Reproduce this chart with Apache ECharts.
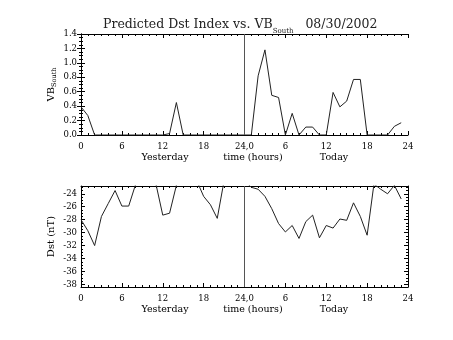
<!DOCTYPE html>
<html><head><meta charset="utf-8">
<script src="https://cdn.jsdelivr.net/npm/echarts@6/dist/echarts.min.js"></script>
<style>html,body{margin:0;padding:0;background:#fff}#c{width:453px;height:340px}</style>
</head><body><div id="c"></div>
<script>
// ---- data ----
const hours = [0,1,2,3,4,5,6,7,8,9,10,11,12,13,14,15,16,17,18,19,20,21,22,23,
               24,25,26,27,28,29,30,31,32,33,34,35,36,37,38,39,40,41,42,43,44,45,46,47];
const vbSouth = [0.39,0.27,0,0,0,0,0,0,0,0,0,0,0,0.02,0.45,0,0,0,0,0,0,0,0,0,
                 0,0,0.82,1.18,0.55,0.52,0,0.30,0,0.11,0.11,0,0,0.59,0.39,0.47,0.77,0.77,0,0,0,0,0.12,0.17];
const dst = [-28.0,-29.7,-32.0,-27.5,-25.5,-23.5,-25.9,-25.9,-22.6,-20.5,-20.5,-22.5,-27.3,-27.0,-22.7,-21.5,-21.0,-22.0,-24.4,-25.7,-27.8,-22.0,-21.0,-21.0,
             -22.0,-23.0,-23.3,-24.4,-26.3,-28.6,-29.9,-28.9,-30.9,-28.3,-27.3,-30.8,-28.9,-29.3,-27.9,-28.1,-25.4,-27.5,-30.4,-22.5,-23.3,-24.0,-22.7,-24.8];
const xTicks = [0,6,12,18,24,30,36,42,48];
const xTickLabels = ['0','6','12','18','24,0','6','12','18','24'];
const dstTicks = [-38,-36,-34,-32,-30,-28,-26,-24];
const dstMinorTicks = [-38,-37.5,-37,-36.5,-36,-35.5,-35,-34.5,-34,-33.5,-33,-32.5,-32,-31.5,-31,-30.5,-30,-29.5,-29,-28.5,-28,-27.5,-27,-26.5,-26,-25.5,-25,-24.5,-24,-23.5,-23];
const titleMain = 'Predicted Dst Index vs. VB';
const titleSub = 'South';
const titleDate = '08/30/2002';

// ---- chart ----
const FONT = 'DejaVu Serif';
const K = '#000';
const chart = echarts.init(document.getElementById('c'), null, {renderer: 'canvas'});

function xAx(gridIndex, position, labels) {
  return {
    type: 'value', gridIndex, position, min: 0, max: 48, interval: 6,
    axisLine: {show: true, onZero: false, lineStyle: {color: K, width: 1}},
    axisTick: {show: true, inside: true, length: 4, lineStyle: {color: K, width: 1}},
    minorTick: {show: true, splitNumber: 6, length: 2, lineStyle: {color: K, width: 1}},
    splitLine: {show: false},
    axisLabel: {show: labels, margin: 7, fontFamily: FONT, fontSize: 8.5, color: K,
      showMinLabel: true, showMaxLabel: true, hideOverlap: false,
      formatter: v => { const i = xTicks.indexOf(Math.round(v)); return i >= 0 ? xTickLabels[i] : ''; }}
  };
}
const lblStyle = {fontFamily: FONT, fontSize: 8.5, color: K};
const nameRich = {
  a: {fontFamily: FONT, fontSize: 10, color: K, lineHeight: 14, fontWeight: 'normal'},
  s: {fontFamily: FONT, fontSize: 6.5, color: K, lineHeight: 7, verticalAlign: 'bottom', fontWeight: 'normal'}
};

const option = {
  animation: false,
  backgroundColor: '#fff',
  title: {
    text: '{a|' + titleMain + '}{s|' + titleSub + '}{a|   ' + titleDate + '}',
    left: 98, top: 10,
    textStyle: {fontWeight: 'normal', rich: {
      a: {fontFamily: FONT, fontSize: 12.5, color: '#222', lineHeight: 20, fontWeight: 'normal'},
      s: {fontFamily: FONT, fontSize: 7, color: '#222', lineHeight: 8, verticalAlign: 'bottom', fontWeight: 'normal'}
    }}
  },
  grid: [
    {left: 81, right: 45, top: 34, height: 101},
    {left: 81, right: 45, top: 186, height: 101}
  ],
  xAxis: [xAx(0, 'bottom', true), xAx(0, 'top', false), xAx(1, 'bottom', true), xAx(1, 'top', false)],
  yAxis: [
    {type: 'value', gridIndex: 0, position: 'left', min: 0, max: 1.4, interval: 0.2,
     axisLine: {show: true, lineStyle: {color: K}},
     axisTick: {show: true, inside: true, length: 4, lineStyle: {color: K}},
     minorTick: {show: true, splitNumber: 4, length: 2, lineStyle: {color: K}},
     splitLine: {show: false},
     axisLabel: Object.assign({margin: 4, formatter: v => v.toFixed(1)}, lblStyle),
     name: '{a|VB}{s|South}', nameLocation: 'middle', nameRotate: 90, nameGap: 23, nameMoveOverlap: false,
     nameTextStyle: {rich: nameRich}},
    {type: 'value', gridIndex: 0, position: 'right', min: 0, max: 1.4, interval: 0.2,
     axisLine: {show: true, lineStyle: {color: K}},
     axisTick: {show: true, inside: true, length: 4, lineStyle: {color: K}},
     minorTick: {show: true, splitNumber: 4, length: 2, lineStyle: {color: K}},
     splitLine: {show: false}, axisLabel: {show: false}},
    {type: 'value', gridIndex: 1, position: 'left', min: -38.4, max: -22.8,
     axisLine: {show: true, lineStyle: {color: K}},
     axisTick: {show: true, inside: true, length: 4, customValues: dstTicks, lineStyle: {color: K}},
     splitLine: {show: false},
     axisLabel: Object.assign({margin: 4, customValues: dstTicks, formatter: v => String(Math.round(v))}, lblStyle),
     name: 'Dst (nT)', nameLocation: 'middle', nameRotate: 90, nameGap: 25, nameMoveOverlap: false,
     nameTextStyle: {fontFamily: FONT, fontSize: 10, color: K}},
    {type: 'value', gridIndex: 1, position: 'left', min: -38.4, max: -22.8,
     axisLine: {show: false},
     axisTick: {show: true, inside: true, length: 2, customValues: dstMinorTicks, lineStyle: {color: K}},
     splitLine: {show: false}, axisLabel: {show: false}},
    {type: 'value', gridIndex: 1, position: 'right', min: -38.4, max: -22.8,
     axisLine: {show: true, lineStyle: {color: K}},
     axisTick: {show: true, inside: true, length: 4, customValues: dstTicks, lineStyle: {color: K}},
     splitLine: {show: false}, axisLabel: {show: false}},
    {type: 'value', gridIndex: 1, position: 'right', min: -38.4, max: -22.8,
     axisLine: {show: false},
     axisTick: {show: true, inside: true, length: 2, customValues: dstMinorTicks, lineStyle: {color: K}},
     splitLine: {show: false}, axisLabel: {show: false}}
  ],
  series: [
    {type: 'line', xAxisIndex: 0, yAxisIndex: 0, data: hours.map((h, i) => [h, vbSouth[i]]),
     symbol: 'none', clip: true, lineStyle: {color: '#222', width: 1},
     markLine: {silent: true, symbol: ['none', 'none'], label: {show: false},
       lineStyle: {color: '#555', type: 'solid', width: 1}, data: [{xAxis: 24}]}},
    {type: 'line', xAxisIndex: 2, yAxisIndex: 2, data: hours.map((h, i) => [h, dst[i]]),
     symbol: 'none', clip: true, lineStyle: {color: '#222', width: 1},
     markLine: {silent: true, symbol: ['none', 'none'], label: {show: false},
       lineStyle: {color: '#555', type: 'solid', width: 1}, data: [{xAxis: 24}]}}
  ],
  graphic: [
    {type: 'text', x: 165, y: 158, style: {text: 'Yesterday', font: '9.5px "DejaVu Serif"', fill: K, align: 'center', verticalAlign: 'middle'}},
    {type: 'text', x: 253, y: 158, style: {text: 'time (hours)', font: '9.5px "DejaVu Serif"', fill: K, align: 'center', verticalAlign: 'middle'}},
    {type: 'text', x: 334, y: 158, style: {text: 'Today', font: '9.5px "DejaVu Serif"', fill: K, align: 'center', verticalAlign: 'middle'}},
    {type: 'text', x: 165, y: 310, style: {text: 'Yesterday', font: '9.5px "DejaVu Serif"', fill: K, align: 'center', verticalAlign: 'middle'}},
    {type: 'text', x: 253, y: 310, style: {text: 'time (hours)', font: '9.5px "DejaVu Serif"', fill: K, align: 'center', verticalAlign: 'middle'}},
    {type: 'text', x: 334, y: 310, style: {text: 'Today', font: '9.5px "DejaVu Serif"', fill: K, align: 'center', verticalAlign: 'middle'}}
  ]
};
chart.setOption(option);
</script>
</body></html>
